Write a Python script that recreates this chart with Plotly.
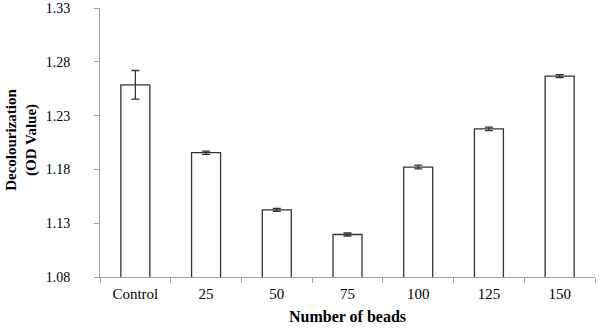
import plotly.graph_objects as go

categories = ["Control", "25", "50", "75", "100", "125", "150"]
values = [1.2586, 1.1955, 1.1424, 1.1195, 1.1822, 1.2176, 1.2667]
errors = [0.0133, 0.0015, 0.0013, 0.0014, 0.0018, 0.0016, 0.0013]
y_ticks = [1.08, 1.13, 1.18, 1.23, 1.28, 1.33]
y_title = "<b>Decolourization<br>(OD Value)</b>"

font = "Liberation Serif, Times New Roman, serif"

fig = go.Figure(go.Bar(
    x=categories, y=values,
    marker=dict(color="white", line=dict(color="#333333", width=1.3)),
    error_y=dict(type="data", array=errors, visible=True, color="#333333", thickness=1.3, width=4),
    width=0.41,
))

fig.add_annotation(
    text=y_title, textangle=-90, showarrow=False,
    xref="paper", yref="paper", x=0, y=0.51, xanchor="center", yanchor="middle",
    xshift=-78, font=dict(family=font, size=15, color="black"),
)

fig.update_layout(
    width=600, height=328,
    margin=dict(l=100, r=5, t=8, b=51, autoexpand=False),
    plot_bgcolor="white", paper_bgcolor="white",
    showlegend=False,
    font=dict(family=font, size=15, color="black"),
    xaxis=dict(
        automargin=False,
        showline=True, linecolor="#a0a0a0", linewidth=1,
        ticks="outside", tickson="boundaries", ticklen=5, tickcolor="#a0a0a0",
        ticklabelstandoff=3,
        title=dict(text="<b>Number of beads</b>", font=dict(family=font, size=16), standoff=9),
        tickfont=dict(family=font, size=15),
    ),
    yaxis=dict(
        automargin=False,
        range=[1.08, 1.33], tickvals=y_ticks, ticktext=[f"{v:.2f}" for v in y_ticks],
        showline=True, linecolor="#a0a0a0", linewidth=1,
        ticks="outside", ticklen=5, tickcolor="#a0a0a0",
        ticklabelstandoff=21,
        showgrid=False, zeroline=False,
        tickfont=dict(family=font, size=14),
    ),
)

fig.write_html("out.html", config={"displayModeBar": False},
               post_script="document.body.style.margin='0';")
